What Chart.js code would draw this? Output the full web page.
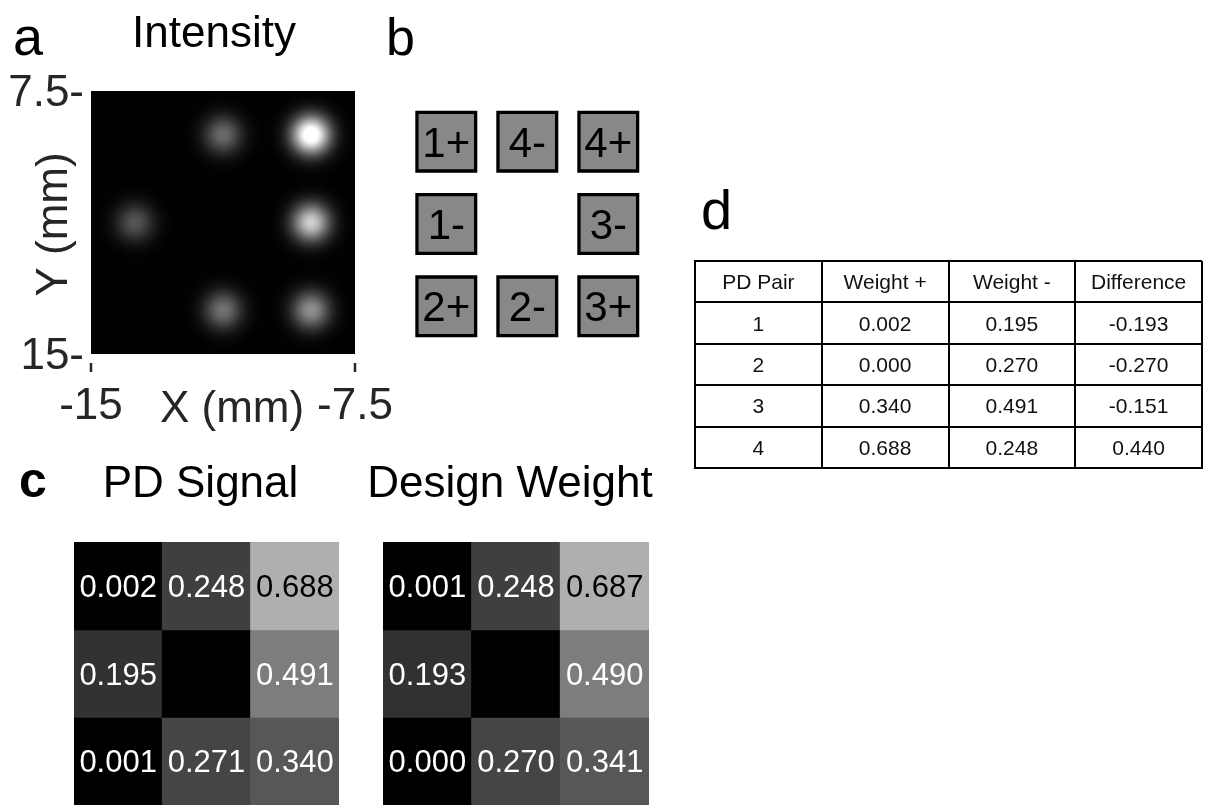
<!DOCTYPE html>
<html>
<head>
<meta charset="utf-8">
<title>Photodiode pairs</title>
<script src="https://cdn.jsdelivr.net/npm/chart.js@4.4.1/dist/chart.umd.min.js"></script>
<style>
  html, body { margin: 0; padding: 0; background: #ffffff; overflow: hidden; }
  #figure { position: relative; width: 1219px; height: 805px; }
  #figure canvas { position: absolute; left: 0; top: 0; }
</style>
</head>
<body>
<div id="figure">
  <canvas id="panelA" width="1219" height="805"></canvas>
  <canvas id="panelB" width="1219" height="805"></canvas>
  <canvas id="panelC1" width="1219" height="805"></canvas>
  <canvas id="panelC2" width="1219" height="805"></canvas>
  <canvas id="panelD" width="1219" height="805"></canvas>
</div>
<script>
// ---- a: light spots on the detector plane (mm) ----
const spotX    = [-11.25, -8.75, -13.75, -8.75, -11.25, -8.75];
const spotY    = [  8.75,  8.75,  11.25, 11.25,  13.75, 13.75];
const spotPeak = [  0.25,  0.69,   0.20,  0.49,   0.27,  0.34];
const spotSigma = 0.38;          // spot radius (mm)
const intensityMax = 0.6;        // white level of the grey map
const xTickValues = [-15, -7.5];
const xTickLabels = ['-15', '-7.5'];
const yTickValues = [7.5, 15];
const yTickLabels = ['7.5-', '15-'];

// ---- b: photodiode layout ----
const padLabels = ['1+', '4-', '4+', '1-', '3-', '2+', '2-', '3+'];
const padCol    = [1, 2, 3, 1, 3, 1, 2, 3];
const padRow    = [1, 1, 1, 2, 2, 3, 3, 3];

// ---- c: 3x3 maps (centre position has no diode) ----
const gridColumns = ['left', 'middle', 'right'];
const pdSignalRows = [
  [0.002, 0.248, 0.688],
  [0.195, null,  0.491],
  [0.001, 0.271, 0.340]
];
const designWeightRows = [
  [0.001, 0.248, 0.687],
  [0.193, null,  0.490],
  [0.000, 0.270, 0.341]
];

// ---- d: pair weights ----
const tableHeader = ['PD Pair', 'Weight +', 'Weight -', 'Difference'];
const pdPair      = ['1', '2', '3', '4'];
const weightPlus  = [0.002, 0.000, 0.340, 0.688];
const weightMinus = [0.195, 0.270, 0.491, 0.248];
const weightDiff  = [-0.193, -0.270, -0.151, 0.440];

// ---------------------------------------------------------------
const W = 1219, H = 805;
const FONT = "'Liberation Sans', Arial, Helvetica, sans-serif";
const AXIS_GREY = '#262626';

Chart.defaults.font.family = FONT;
Chart.defaults.animation = false;
Chart.defaults.events = [];
Chart.defaults.plugins.legend.display = false;
Chart.defaults.plugins.tooltip.enabled = false;

function drawText(ctx, text, x, y, size, color, align, weight) {
  ctx.save();
  ctx.font = (weight || 'normal') + ' ' + size + 'px ' + FONT;
  ctx.fillStyle = color;
  ctx.textAlign = align || 'left';
  ctx.textBaseline = 'alphabetic';
  ctx.fillText(text, x, y);
  ctx.restore();
}

// Sum of gaussian spots, evaluated per pixel through the chart scales
const intensityField = {
  id: 'intensityField',
  beforeDatasetsDraw(chart) {
    const { ctx, chartArea: a, scales: { x, y } } = chart;
    const spots = chart.data.datasets[0].data;
    const w = Math.round(a.right - a.left), h = Math.round(a.bottom - a.top);
    const img = ctx.createImageData(w, h);
    const s2 = 2 * spotSigma * spotSigma;
    for (let j = 0; j < h; j++) {
      const vy = y.getValueForPixel(a.top + j + 0.5);
      for (let i = 0; i < w; i++) {
        const vx = x.getValueForPixel(a.left + i + 0.5);
        let v = 0;
        for (const p of spots) {
          const dx = vx - p.x, dy = vy - p.y;
          v += p.v * Math.exp(-(dx * dx + dy * dy) / s2);
        }
        const g = Math.max(0, Math.min(255, Math.round(v / intensityMax * 255)));
        const k = (j * w + i) * 4;
        img.data[k] = img.data[k + 1] = img.data[k + 2] = g;
        img.data[k + 3] = 255;
      }
    }
    ctx.putImageData(img, Math.round(a.left), Math.round(a.top));
  }
};

const panelAText = {
  id: 'panelAText',
  afterDraw(chart) {
    const { ctx, chartArea: a, scales: { x } } = chart;
    drawText(ctx, 'a', 13, 55, 54, '#000');
    drawText(ctx, 'Intensity', 214, 47, 44, '#000', 'center');
    drawText(ctx, 'X (mm)', 232, 422, 44, AXIS_GREY, 'center');
    ctx.save();
    ctx.translate(67, 224.5);
    ctx.rotate(-Math.PI / 2);
    drawText(ctx, 'Y (mm)', 0, 0, 44, AXIS_GREY, 'center');
    ctx.restore();
    // detached tick marks under the image
    ctx.save();
    ctx.strokeStyle = AXIS_GREY;
    ctx.lineWidth = 2.5;
    xTickValues.forEach(v => {
      const px = x.getPixelForValue(v);
      ctx.beginPath();
      ctx.moveTo(px, a.bottom + 9);
      ctx.lineTo(px, a.bottom + 18);
      ctx.stroke();
    });
    ctx.restore();
  }
};

new Chart(document.getElementById('panelA'), {
  type: 'scatter',
  data: {
    datasets: [{
      data: spotX.map((sx, i) => ({ x: sx, y: spotY[i], v: spotPeak[i] })),
      pointRadius: 0
    }]
  },
  options: {
    responsive: false,
    layout: { padding: { left: 0, top: 91, right: W - 355, bottom: 0 } },
    scales: {
      x: {
        type: 'linear', position: 'bottom', min: -15, max: -7.5,
        afterBuildTicks: s => { s.ticks = xTickValues.map(v => ({ value: v })); },
        afterFit: s => { s.height = H - 354; },
        grid: { display: false, drawTicks: false },
        border: { display: false },
        ticks: {
          autoSkip: false, maxRotation: 0, padding: 26, color: AXIS_GREY,
          font: { size: 44 }, callback: (v, i) => xTickLabels[i]
        }
      },
      y: {
        type: 'linear', position: 'left', reverse: true, min: 7.5, max: 15,
        afterBuildTicks: s => { s.ticks = yTickValues.map(v => ({ value: v })); },
        afterFit: s => { s.width = 91; },
        grid: { display: false, drawTicks: false },
        border: { display: false },
        ticks: {
          autoSkip: false, padding: 7, color: AXIS_GREY, labelOffset: 3,
          font: { size: 44 }, callback: (v, i) => yTickLabels[i]
        }
      }
    }
  },
  plugins: [intensityField, panelAText]
});

// ---- b ----
const padText = {
  id: 'padText',
  afterDatasetsDraw(chart) {
    const { ctx } = chart;
    const meta = chart.getDatasetMeta(0);
    meta.data.forEach((el, i) => {
      drawText(ctx, padLabels[i], el.x, el.y + 15, 42, '#000', 'center');
    });
  },
  afterDraw(chart) {
    drawText(chart.ctx, 'b', 386, 55, 52, '#000');
  }
};

new Chart(document.getElementById('panelB'), {
  type: 'scatter',
  data: {
    datasets: [{
      data: padCol.map((c, i) => ({ x: c, y: padRow[i] })),
      pointStyle: 'rect',
      pointRadius: 41.5,
      backgroundColor: '#888888',
      borderColor: '#000000',
      borderWidth: 3.3,
      clip: false
    }]
  },
  options: {
    responsive: false,
    layout: { padding: { left: 405.8, right: W - 648.8, top: 100.5, bottom: H - 347.5 } },
    scales: {
      x: { type: 'linear', min: 0.5, max: 3.5, display: false },
      y: { type: 'linear', min: 0.5, max: 3.5, reverse: true, display: false }
    }
  },
  plugins: [padText]
});

// ---- c ----
const darkTextAbove = 0.6;
function greyOf(v) {
  const g = Math.round((v === null ? 0 : v) * 255);
  return 'rgb(' + g + ',' + g + ',' + g + ')';
}

function cellText(title, withLetter) {
  return {
    id: 'cellText',
    afterDatasetsDraw(chart) {
      const { ctx } = chart;
      chart.data.datasets.forEach((ds, d) => {
        chart.getDatasetMeta(d).data.forEach((el, i) => {
          const v = ds.values[i];
          if (v === null) return;
          const cy = (el.y + el.base) / 2;
          drawText(ctx, v.toFixed(3), el.x, cy + 11, 31, v > darkTextAbove ? '#000' : '#fff', 'center');
        });
      });
    },
    afterDraw(chart) {
      const a = chart.chartArea;
      if (withLetter) drawText(chart.ctx, 'c', 19, 497, 50, '#000', 'left', 'bold');
      drawText(chart.ctx, title, (a.left + a.right) / 2 - 6, 497, 44, '#000', 'center');
    }
  };
}

function heatmap(id, rows, left, right, title, withLetter) {
  return new Chart(document.getElementById(id), {
    type: 'bar',
    data: {
      labels: gridColumns,
      datasets: rows.map((row, r) => ({
        data: row.map(() => [r, r + 1]),
        values: row,
        backgroundColor: row.map(greyOf),
        borderWidth: 0,
        inflateAmount: 0.5,
        grouped: false,
        barPercentage: 1,
        categoryPercentage: 1
      }))
    },
    options: {
      responsive: false,
      layout: { padding: { left: left, right: W - right, top: 542, bottom: 0 } },
      scales: {
        x: { type: 'category', display: false },
        y: { type: 'linear', min: 0, max: 3, reverse: true, display: false }
      }
    },
    plugins: [cellText(title, withLetter)]
  });
}

heatmap('panelC1', pdSignalRows, 74, 339, 'PD Signal', true);
heatmap('panelC2', designWeightRows, 383, 649, 'Design Weight', false);

// ---- d ----
const tableText = {
  id: 'tableText',
  afterDraw(chart) {
    const { ctx, scales: { x, y } } = chart;
    const cols = [pdPair, weightPlus.map(v => v.toFixed(3)),
                  weightMinus.map(v => v.toFixed(3)), weightDiff.map(v => v.toFixed(3))];
    tableHeader.forEach((h, c) => {
      drawText(ctx, h, x.getPixelForValue(c), y.getPixelForValue(0) + 7.5, 21, '#111', 'center');
    });
    cols.forEach((col, c) => {
      col.forEach((t, r) => {
        drawText(ctx, t, x.getPixelForValue(c), y.getPixelForValue(r + 1) + 7.5, 21, '#111', 'center');
      });
    });
    drawText(ctx, 'd', 701, 229, 56, '#000');
  }
};

const tableLines = { offset: true, color: '#000', lineWidth: 2, drawTicks: false };
new Chart(document.getElementById('panelD'), {
  type: 'scatter',
  data: { datasets: [] },
  options: {
    responsive: false,
    layout: { padding: { left: 695, right: W - 1202, top: 261, bottom: H - 468 } },
    scales: {
      x: {
        type: 'category', labels: tableHeader, offset: true, position: 'bottom',
        grid: tableLines, border: { display: true, color: '#000', width: 2 },
        ticks: { display: false }, afterFit: s => { s.height = 0; }
      },
      y: {
        type: 'category', labels: ['header'].concat(pdPair), offset: true, position: 'left',
        grid: tableLines, border: { display: true, color: '#000', width: 2 },
        ticks: { display: false }, afterFit: s => { s.width = 0; }
      }
    }
  },
  plugins: [tableText]
});
</script>
</body>
</html>
